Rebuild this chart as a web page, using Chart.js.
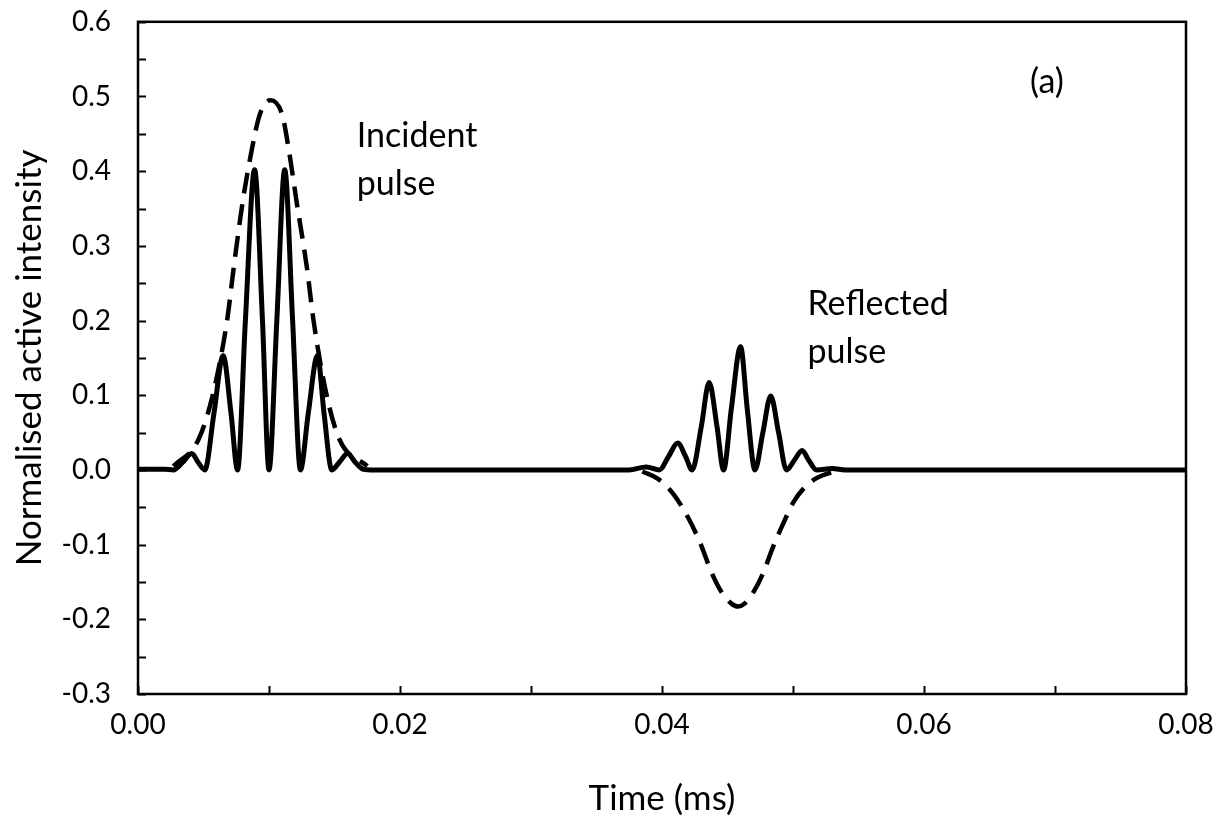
<!DOCTYPE html>
<html>
<head>
<meta charset="utf-8">
<script src="https://cdn.jsdelivr.net/npm/chart.js@4.4.1/dist/chart.umd.min.js"></script>
<style>
  html, body { margin: 0; padding: 0; background: #fff; }
  #wrap { width: 1222px; height: 821px; }
</style>
</head>
<body>
<div id="wrap"><canvas id="pulseChart" width="1222" height="821"></canvas></div>
<script>
// time (ms) and normalised active intensity
var solidTime = [0.0000, 0.0020, 0.0027, 0.0034, 0.0041, 0.0046, 0.0051,
    0.0058, 0.0065, 0.0071, 0.0076,
    0.0082, 0.0089, 0.0095, 0.0100,
    0.0106, 0.0112, 0.0118, 0.0124,
    0.0130, 0.0137, 0.0142, 0.0148,
    0.0154, 0.0160, 0.0166, 0.0172, 0.0180,
    0.0300, 0.0375, 0.0388, 0.0398,
    0.0405, 0.0412, 0.0418, 0.0423,
    0.0430, 0.0436, 0.0442, 0.0447,
    0.0453, 0.0460, 0.0465, 0.0471,
    0.0477, 0.0483, 0.0489, 0.0495,
    0.0501, 0.0507, 0.0512, 0.0518,
    0.0530, 0.0540, 0.0800];
var solidValue = [0.001, 0.001, 0.000, 0.010, 0.022, 0.010, 0.000,
    0.076, 0.153, 0.076, 0.000,
    0.201, 0.402, 0.201, 0.000,
    0.201, 0.402, 0.201, 0.000,
    0.076, 0.153, 0.076, 0.000,
    0.011, 0.022, 0.010, 0.001, 0.000,
    0.000, 0.000, 0.004, 0.000,
    0.018, 0.036, 0.018, 0.000,
    0.058, 0.117, 0.058, 0.000,
    0.083, 0.165, 0.083, 0.000,
    0.050, 0.099, 0.050, 0.000,
    0.013, 0.026, 0.013, 0.000,
    0.002, 0.000, 0.000];

// dashed envelopes
var incidentEnvTime = [0.0027, 0.0046, 0.0057, 0.0068, 0.0073, 0.0080, 0.0087, 0.0093, 0.0101,
    0.0110, 0.0115, 0.0121, 0.0129, 0.0134, 0.0144, 0.0154, 0.0175];
var incidentEnvValue = [0.005, 0.040, 0.100, 0.200, 0.270, 0.360, 0.430, 0.476, 0.495,
    0.476, 0.430, 0.360, 0.270, 0.200, 0.100, 0.040, 0.005];
var reflectedEnvTime = [0.0385, 0.0397, 0.0409, 0.0420, 0.0429, 0.0438, 0.0446, 0.0453, 0.0458,
    0.0463, 0.0470, 0.0477, 0.0485, 0.0493, 0.0500, 0.0508, 0.0517, 0.0530, 0.0538];
var reflectedEnvValue = [-0.002, -0.012, -0.033, -0.064, -0.097, -0.138, -0.165, -0.179, -0.183,
    -0.179, -0.163, -0.139, -0.102, -0.070, -0.044, -0.025, -0.012, -0.003, 0.000];

var xTicks = { min: 0, max: 0.08, step: 0.01 };
var yTicks = { min: -0.3, max: 0.6, step: 0.05 };

function pairs(xs, ys) {
    return xs.map(function(x, i) { return { x: x, y: ys[i] }; });
}

var FONT = 'Lato, "Open Sans", sans-serif';

// box around the plot + inward tick marks
var frame = {
    id: 'frame',
    afterDatasetsDraw: function(chart) {
        var c = chart.ctx, a = chart.chartArea;
        var xs = chart.scales.x, ys = chart.scales.y;
        c.save();
        c.strokeStyle = '#000';
        c.lineWidth = 2;
        xs.ticks.forEach(function(t) {
            var px = Math.round(xs.getPixelForValue(t.value)) + 0.5;
            c.beginPath(); c.moveTo(px, a.bottom); c.lineTo(px, a.bottom - 8); c.stroke();
        });
        ys.ticks.forEach(function(t) {
            var py = Math.round(ys.getPixelForValue(t.value)) + 0.5;
            c.beginPath(); c.moveTo(a.left, py); c.lineTo(a.left + 8, py); c.stroke();
        });
        c.lineWidth = 2.5;
        c.strokeRect(a.left, a.top, a.right - a.left, a.bottom - a.top);
        c.restore();
    }
};

// pulse labels
var notes = {
    id: 'notes',
    afterDraw: function(chart) {
        var c = chart.ctx;
        var xs = chart.scales.x, ys = chart.scales.y;
        c.save();
        c.fillStyle = '#000';
        c.font = '34px ' + FONT;
        c.textAlign = 'left';
        c.textBaseline = 'alphabetic';
        var x1 = xs.getPixelForValue(0.0167);
        c.fillText('Incident', x1, ys.getPixelForValue(0.432));
        c.fillText('pulse', x1, ys.getPixelForValue(0.368));
        var x2 = xs.getPixelForValue(0.0511);
        c.fillText('Reflected', x2, ys.getPixelForValue(0.207));
        c.fillText('pulse', x2, ys.getPixelForValue(0.143));
        c.fillText('(a)', xs.getPixelForValue(0.0681), ys.getPixelForValue(0.505));
        c.restore();
    }
};

var ctx = document.getElementById('pulseChart').getContext('2d');
var pulseChart = new Chart(ctx, {
    type: 'line',
    data: {
        datasets: [{
            label: 'Active intensity',
            data: pairs(solidTime, solidValue),
            borderColor: '#000',
            borderWidth: 5,
            pointRadius: 0,
            cubicInterpolationMode: 'monotone',
            fill: false
        }, {
            label: 'Incident envelope',
            data: pairs(incidentEnvTime, incidentEnvValue),
            borderColor: '#000',
            borderWidth: 4.5,
            borderDash: [21, 11],
            pointRadius: 0,
            cubicInterpolationMode: 'monotone',
            fill: false
        }, {
            label: 'Reflected envelope',
            data: pairs(reflectedEnvTime, reflectedEnvValue),
            borderColor: '#000',
            borderWidth: 4.5,
            borderDash: [21, 11],
            pointRadius: 0,
            cubicInterpolationMode: 'monotone',
            fill: false
        }]
    },
    options: {
        responsive: false,
        animation: false,
        devicePixelRatio: 1,
        layout: { padding: { top: 21, right: 36, left: 0, bottom: 0 } },
        plugins: {
            legend: { display: false },
            tooltip: { enabled: false }
        },
        scales: {
            x: {
                type: 'linear',
                min: xTicks.min,
                max: xTicks.max,
                afterFit: function(scale) { scale.height = 127; },
                grid: { display: false, drawTicks: true, tickLength: 10, tickColor: 'rgba(0,0,0,0)' },
                border: { display: false },
                ticks: {
                    stepSize: xTicks.step,
                    autoSkip: false,
                    maxRotation: 0,
                    padding: 4,
                    color: '#000',
                    font: { family: FONT, size: 28 },
                    callback: function(v) {
                        return Math.round(v * 100) % 2 === 0 ? v.toFixed(2) : '';
                    }
                },
                title: {
                    display: true,
                    text: 'Time (ms)',
                    color: '#000',
                    font: { family: FONT, size: 35 },
                    padding: { top: 0, bottom: 1 }
                }
            },
            y: {
                min: yTicks.min,
                max: yTicks.max,
                afterFit: function(scale) { scale.width = 138; },
                grid: { display: false, drawTicks: true, tickLength: 22, tickColor: 'rgba(0,0,0,0)' },
                border: { display: false },
                ticks: {
                    stepSize: yTicks.step,
                    autoSkip: false,
                    padding: 5,
                    color: '#000',
                    font: { family: FONT, size: 28 },
                    callback: function(v) {
                        return Math.round(v * 100) % 10 === 0 ? v.toFixed(1) : '';
                    }
                },
                title: {
                    display: true,
                    text: 'Normalised active intensity',
                    color: '#000',
                    font: { family: FONT, size: 35 },
                    padding: { top: 9, bottom: 0 }
                }
            }
        }
    },
    plugins: [frame, notes]
});
</script>
</body>
</html>
